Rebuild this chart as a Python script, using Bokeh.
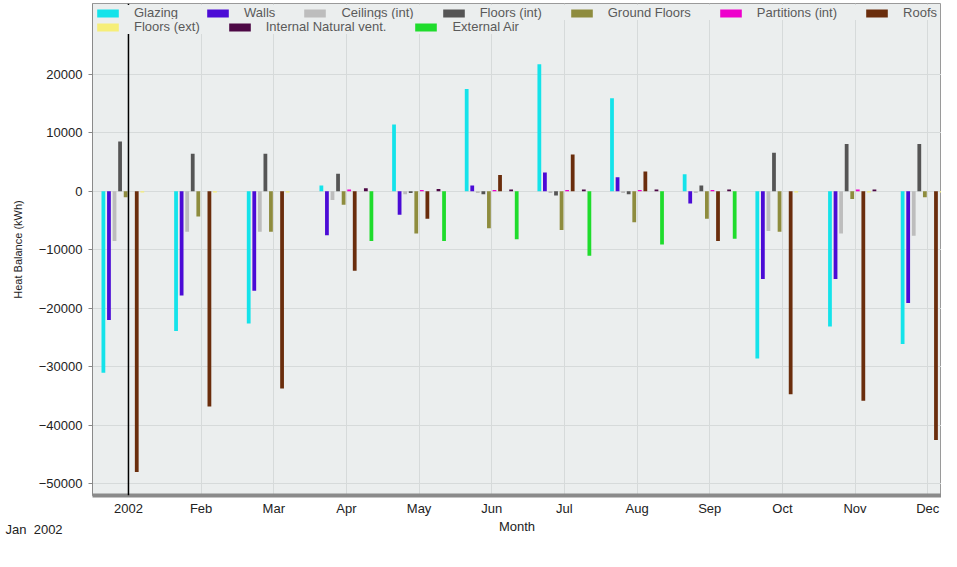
from bokeh.plotting import figure
from bokeh.models import (ColumnDataSource, Legend, LegendItem, Span, Label,
                          FixedTicker, Range1d)
from bokeh.transform import dodge
from bokeh.embed import file_html
from bokeh.resources import INLINE

months = [1, 2, 3, 4, 5, 6, 7, 8, 9, 10, 11, 12]
month_labels = ["2002", "Feb", "Mar", "Apr", "May", "Jun", "Jul", "Aug", "Sep", "Oct", "Nov", "Dec"]

series_names = ["Glazing", "Walls", "Ceilings (int)", "Floors (int)", "Ground Floors",
                "Partitions (int)", "Roofs", "Floors (ext)", "Internal Natural vent.", "External Air"]
series_colors = ["#14e3ea", "#4b0bd6", "#bdbdbd", "#555555", "#8e8c3e",
                 "#ee00cc", "#6a2d0c", "#f6ee78", "#4d0845", "#1fdc2c"]

glazing   = [-31000, -23900, -22600, 1000, 11400, 17500, 21700, 15900, 2900, -28600, -23100, -26100]
walls     = [-22000, -17800, -17000, -7500, -4000, 1000, 3200, 2400, -2100, -15000, -15000, -19100]
ceilings  = [-8500, -6900, -6900, -1500, -500, -300, -300, -300, -300, -6800, -7200, -7600]
floors_int = [8500, 6400, 6400, 3000, -300, -500, -700, -500, 1000, 6600, 8100, 8100]
ground_fl = [-1000, -4300, -6900, -2300, -7200, -6300, -6600, -5300, -4700, -6900, -1300, -1000]
partitions = [0, 0, 0, 300, 200, 200, 200, 200, 200, 0, 300, 0]
roofs     = [-48000, -36800, -33700, -13600, -4700, 2800, 6300, 3400, -8500, -34700, -35800, -42500]
floors_ext = [-200, -200, -200, 0, 0, 0, 0, 0, 0, -200, -200, -200]
int_vent  = [0, 0, 0, 500, 400, 300, 300, 300, 300, 0, 300, 0]
ext_air   = [0, 0, 0, -8500, -8500, -8200, -11000, -9100, -8100, 0, 0, 0]

series_values = [glazing, walls, ceilings, floors_int, ground_fl,
                 partitions, roofs, floors_ext, int_vent, ext_air]

y_ticks = [20000, 10000, 0, -10000, -20000, -30000, -40000, -50000]

FONT = "Liberation Sans"
X0, X1 = 0.505, 12.19
Y0, Y1 = -52000, 32100

p = figure(width=941, height=551, output_backend="svg", toolbar_location=None,
           x_range=Range1d(X0, X1), y_range=Range1d(Y0, Y1),
           min_border_left=92, min_border_right=0, min_border_top=3, min_border_bottom=10)
p.background_fill_color = "#ebeeee"
p.border_fill_color = "white"
p.outline_line_color = "#9a9a9a"

src = {"month": months}
for i, vals in enumerate(series_values):
    src["s%d" % i] = vals
source = ColumnDataSource(src)

slot = 0.0765
renderers = []
for i, name in enumerate(series_names):
    off = -0.345 + i * slot
    r = p.vbar(x=dodge("month", off, range=p.x_range), top="s%d" % i, bottom=0,
               width=0.052, source=source, fill_color=series_colors[i],
               line_color=None)
    renderers.append(r)

# marker line at Jan
p.add_layout(Span(location=months[0], dimension="height", line_color="black", line_width=1.5))

p.xaxis.ticker = FixedTicker(ticks=months)
p.xaxis.major_label_overrides = {m: l for m, l in zip(months, month_labels)}
p.yaxis.ticker = FixedTicker(ticks=y_ticks)

p.xgrid.grid_line_color = "#d6dada"
p.ygrid.grid_line_color = "#d6dada"

for ax in (p.xaxis, p.yaxis):
    ax.major_label_text_font = FONT
    ax.major_label_text_font_size = "13px"
    ax.major_label_text_color = "#222222"
    ax.axis_label_text_font = FONT
    ax.axis_label_text_font_style = "normal"
    ax.axis_label_text_color = "#222222"
    ax.minor_tick_line_color = None
    ax.minor_tick_out = 0
    ax.minor_tick_in = 0
    ax.major_tick_line_color = "#888888"
    ax.major_tick_in = 0
    ax.major_tick_out = 4

p.xaxis.axis_line_color = "#8a8a8a"
p.xaxis.axis_line_width = 4
p.xaxis.major_tick_line_color = None
p.xaxis.major_tick_out = 0
p.xaxis.major_label_standoff = 5
p.xaxis.axis_label = "Month"
p.xaxis.axis_label_text_font_size = "13px"
p.xaxis.axis_label_standoff = 0

p.yaxis.axis_line_color = "#8a8a8a"
p.yaxis.axis_label = "Heat Balance (kWh)"
p.yaxis.axis_label_text_font_size = "11px"
p.yaxis.axis_label_standoff = 12
p.yaxis.major_label_standoff = 6

items1 = [LegendItem(label=series_names[i], renderers=[renderers[i]]) for i in range(7)]
items2 = [LegendItem(label=series_names[i], renderers=[renderers[i]]) for i in range(7, 10)]

def style(lg):
    lg.orientation = "horizontal"
    lg.label_text_font = FONT
    lg.label_text_font_size = "13px"
    lg.label_text_color = "#5a5a5a"
    lg.glyph_width = 27
    lg.glyph_height = 10
    lg.label_standoff = 13
    lg.spacing = 26
    lg.padding = 1
    lg.margin = 2
    lg.border_line_color = None
    lg.background_fill_color = "#ebeeee"
    lg.background_fill_alpha = 1.0
    lg.label_height = 12

leg1 = Legend(items=items1, location="top_left")
style(leg1)
p.add_layout(leg1, "center")
leg2 = Legend(items=items2, location=(2, 461))
style(leg2)
p.add_layout(leg2, "center")

jan = Label(x=-87, y=22, x_units="screen", y_units="screen", text="Jan\u00a0 2002",
            text_font=FONT, text_font_size="13px", text_color="#222222",
            text_baseline="middle")
p.add_layout(jan, "below")

open("out.html", "w").write(file_html(p, INLINE))
